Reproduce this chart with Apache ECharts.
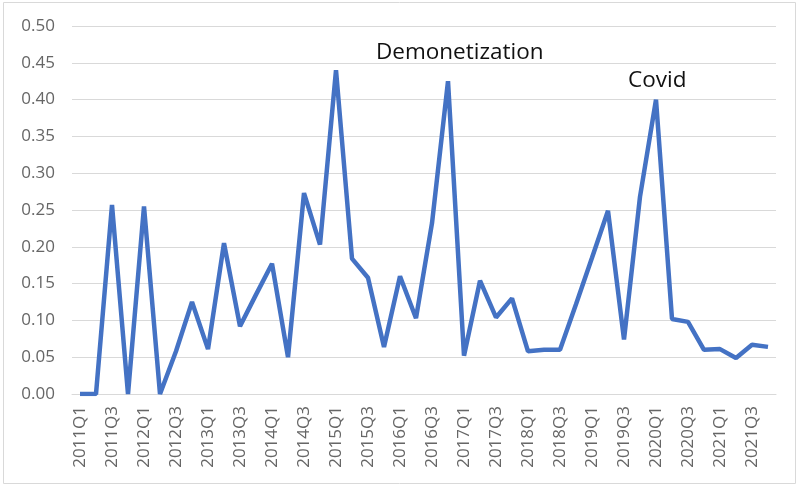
<!DOCTYPE html>
<html>
<head>
<meta charset="utf-8">
<script src="https://cdn.jsdelivr.net/npm/echarts@6/dist/echarts.min.js"></script>
<style>
  html, body { margin: 0; padding: 0; background: #fff; }
  #chart { width: 800px; height: 486px; }
</style>
</head>
<body>
<div id="chart"></div>
<script>
// quarters 2011Q1 .. 2021Q4
const years = [2011, 2012, 2013, 2014, 2015, 2016, 2017, 2018, 2019, 2020, 2021];
const quarters = [];
years.forEach(y => { for (let q = 1; q <= 4; q++) quarters.push(y + 'Q' + q); });

const values = [
  0.000, 0.000, 0.257, 0.000,
  0.255, 0.000, 0.058, 0.125,
  0.061, 0.205, 0.092, 0.135,
  0.177, 0.050, 0.273, 0.203,
  0.440, 0.184, 0.158, 0.064,
  0.160, 0.103, 0.232, 0.425,
  0.052, 0.154, 0.104, 0.130,
  0.058, 0.060, 0.060, 0.122,
  0.185, 0.249, 0.074, 0.268,
  0.400, 0.102, 0.098, 0.060,
  0.061, 0.049, 0.067, 0.064
];

const yTicks = { min: 0, max: 0.5, step: 0.05 };

const chart = echarts.init(document.getElementById('chart'));

const option = {
  animation: false,
  grid: { left: 72, right: 24, top: 26, bottom: 92 },
  xAxis: {
    type: 'category',
    data: quarters,
    boundaryGap: true,
    axisLine: { lineStyle: { color: '#d9d9d9', width: 1 } },
    axisTick: { show: false },
    axisLabel: {
      interval: 1,
      rotate: 90,
      margin: 12,
      color: '#666',
      fontSize: 17,
      fontFamily: 'Open Sans, sans-serif'
    }
  },
  yAxis: {
    type: 'value',
    min: yTicks.min,
    max: yTicks.max,
    interval: yTicks.step,
    axisLine: { show: false },
    axisTick: { show: false },
    splitLine: { lineStyle: { color: '#d9d9d9', width: 1 } },
    axisLabel: {
      margin: 17,
      color: '#666',
      fontSize: 17,
      fontFamily: 'Open Sans, sans-serif',
      formatter: v => v.toFixed(2)
    }
  },
  series: [{
    type: 'line',
    data: values,
    symbol: 'none',
    lineStyle: { color: '#4472c4', width: 4.5 },
    itemStyle: { color: '#4472c4' }
  }],
  graphic: [
    {
      type: 'rect',
      shape: { x: 3.5, y: 2.5, width: 792, height: 481 },
      style: { fill: 'none', stroke: '#d9d9d9', lineWidth: 1 },
      silent: true
    },
    {
      type: 'text',
      left: 376, top: 41,
      style: { text: 'Demonetization', fill: '#111', fontSize: 22.5, fontFamily: 'Open Sans, sans-serif' }
    },
    {
      type: 'text',
      left: 628, top: 69,
      style: { text: 'Covid', fill: '#111', fontSize: 22.5, fontFamily: 'Open Sans, sans-serif' }
    }
  ]
};

chart.setOption(option);
</script>
</body>
</html>
